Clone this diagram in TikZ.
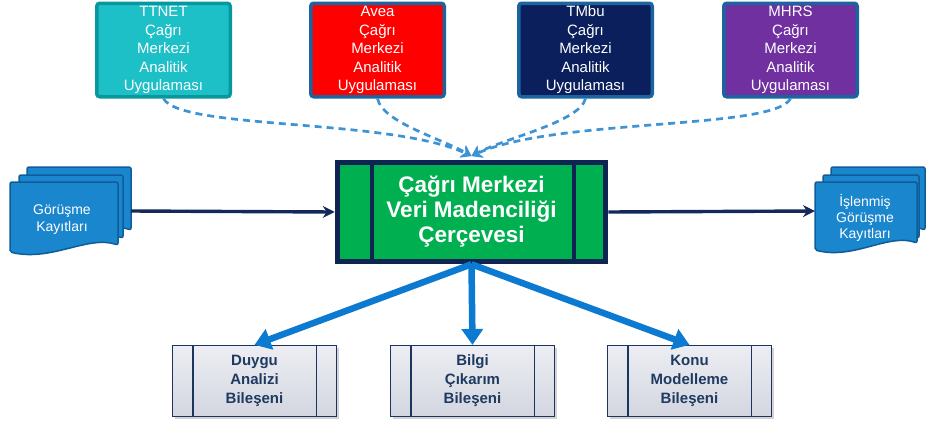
\documentclass[tikz,border=0pt]{standalone}
\usepackage{fontspec}
\setmainfont{Liberation Sans}
\usetikzlibrary{arrows.meta,shadows}
\definecolor{tealfill}{HTML}{1EC0C8}
\definecolor{tealline}{HTML}{06989E}
\definecolor{boxline}{HTML}{1A64A0}
\definecolor{redfill}{HTML}{FF0000}
\definecolor{navyfill}{HTML}{0A1F5C}
\definecolor{purplefill}{HTML}{7030A0}
\definecolor{greenfill}{HTML}{00B050}
\definecolor{framenavy}{HTML}{0E2452}
\definecolor{docfill}{HTML}{1A86CE}
\definecolor{docline}{HTML}{0E5C99}
\definecolor{dashblue}{HTML}{3E93D4}
\definecolor{bigblue}{HTML}{0B7AD0}
\definecolor{arrnavy}{HTML}{14285A}
\definecolor{comptext}{HTML}{1F3A60}
\definecolor{compline}{HTML}{1C3560}
\definecolor{comptop}{HTML}{EDEEF3}
\definecolor{compbot}{HTML}{D3D6E0}
\newcommand\docpath[4]{%
  \path[docstyle] (#1,#2+#4) -- (#1,#2) -- (#1+#3,#2) -- (#1+#3,#2+#4-7)
    .. controls (#1+0.72*#3,#2+#4-17) and (#1+0.38*#3,#2+#4+10) .. cycle;}
\begin{document}
\begin{tikzpicture}[x=1pt,y=-1pt,
  topbox/.style={draw=boxline, line width=3.5pt, rounded corners=3pt,
    minimum width=133.5pt, minimum height=93.5pt, inner sep=0pt, align=center,
    text=white, font=\fontsize{15}{18.5}\selectfont},
  docstyle/.style={fill=docfill, draw=docline, line width=1.5pt, rounded corners=2pt},
  doctext/.style={text=white, align=center, inner sep=0pt},
  compbox/.style={draw=compline, line width=1.2pt, top color=comptop, bottom color=compbot,
    minimum width=164pt, minimum height=71pt, inner sep=0pt, align=center,
    text=comptext, font=\bfseries\fontsize{15}{19}\selectfont,
    drop shadow={shadow xshift=2pt, shadow yshift=-2.5pt, opacity=0.35}},
  dashline/.style={draw=dashblue, line width=2.7pt, dash pattern=on 7pt off 5pt,
    -{Stealth[length=10pt,width=13pt]}},
  bigarrow/.style={draw=bigblue, line width=6.5pt, -{Triangle[length=16pt,width=21pt]}},
  navyarrow/.style={draw=arrnavy, line width=3.4pt, -{Stealth[length=12pt,width=12pt]}}]
\useasboundingbox (0,0) rectangle (926,426);

% top boxes
\node[topbox, fill=tealfill, draw=tealline] (ttnet) at (163.5,50) {TTNET\\Çağrı\\Merkezi\\Analitik\\Uygulaması};
\node[topbox, fill=redfill] (avea) at (377.5,50) {Avea\\Çağrı\\Merkezi\\Analitik\\Uygulaması};
\node[topbox, fill=navyfill] (tmbu) at (585.5,50) {TMbu\\Çağrı\\Merkezi\\Analitik\\Uygulaması};
\node[topbox, fill=purplefill] (mhrs) at (790.5,50) {MHRS\\Çağrı\\Merkezi\\Analitik\\Uygulaması};

% central frame
\node[draw=framenavy, fill=greenfill, line width=5.5pt, minimum width=268pt, minimum height=99pt,
  inner sep=0pt, align=center, text=white, font=\bfseries\fontsize{22.5}{25}\selectfont]
  (frame) at (471.5,212) {Çağrı Merkezi\\Veri Madenciliği\\Çerçevesi};
\draw[framenavy, line width=4pt] ([xshift=37pt]frame.north west) -- ([xshift=37pt]frame.south west);
\draw[framenavy, line width=4pt] ([xshift=-34pt]frame.north east) -- ([xshift=-34pt]frame.south east);

% documents left
\docpath{27}{167}{104}{70}
\docpath{19}{175}{104}{70}
\docpath{10}{182}{108}{70}
\node[doctext, font=\fontsize{14}{17}\selectfont] (gorusme) at (62,220) {Görüşme\\Kayıtları};
\coordinate (ldoc) at (131,211);

% documents right
\docpath{831}{167}{94}{70}
\docpath{823}{175}{96}{70}
\docpath{815}{182}{102}{68}
\node[doctext, font=\fontsize{14}{16}\selectfont] (islenmis) at (865,218) {İşlenmiş\\Görüşme\\Kayıtları};
\coordinate (rdoc) at (815,211);

% bottom components
\node[compbox] (duygu) at (254.5,381) {Duygu\\Analizi\\Bileşeni};
\node[compbox] (bilgi) at (472.5,381) {Bilgi\\Çıkarım\\Bileşeni};
\node[compbox] (konu) at (689.5,381) {Konu\\Modelleme\\Bileşeni};
\foreach \n in {duygu,bilgi,konu}{
  \draw[compline, line width=1.2pt] ([xshift=21pt]\n.north west) -- ([xshift=21pt]\n.south west);
  \draw[compline, line width=1.2pt] ([xshift=-21pt]\n.north east) -- ([xshift=-21pt]\n.south east);
}

% connectors
\coordinate (hub) at (471.5,156);
\draw[dashline] (ttnet.south) .. controls (180,130) and (390,118) .. (hub);
\draw[dashline] (avea.south) .. controls (382,122) and (440,138) .. (hub);
\draw[dashline] (tmbu.south) .. controls (580,122) and (505,138) .. (hub);
\draw[dashline] (mhrs.south) .. controls (775,130) and (555,118) .. (hub);

\draw[navyarrow] (ldoc) -- (frame.west);
\draw[navyarrow] (frame.east) -- (rdoc);

\draw[bigarrow] (frame.south) -- (duygu.north);
\draw[bigarrow] (frame.south) -- (bilgi.north);
\draw[bigarrow] (frame.south) -- (konu.north);
\end{tikzpicture}
\end{document}
